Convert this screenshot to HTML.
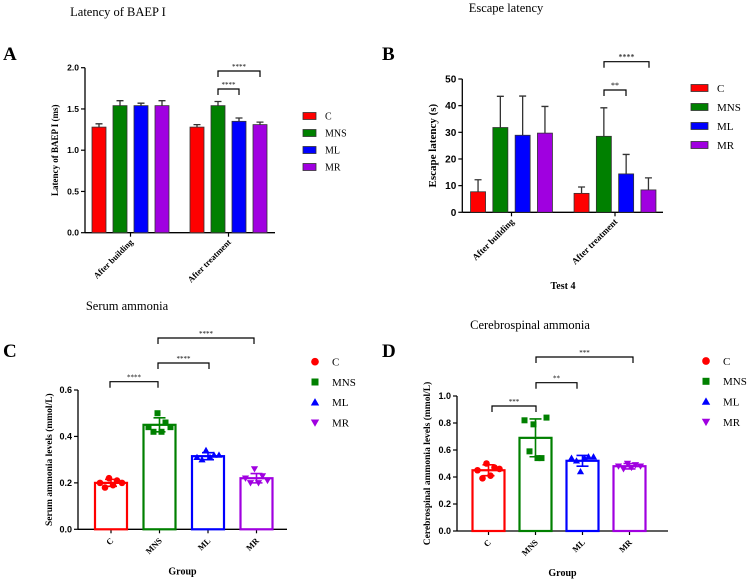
<!DOCTYPE html>
<html><head><meta charset="utf-8"><style>
html,body{margin:0;padding:0;background:#fff;}
svg{display:block;}
.serif{font-family:"Liberation Serif",serif;}
.sans{font-family:"Liberation Sans",sans-serif;}
</style></head><body>
<svg id="fig" width="750" height="580" viewBox="0 0 750 580" xmlns="http://www.w3.org/2000/svg">
<text class="serif" x="118" y="16" font-size="12.5" text-anchor="middle">Latency of BAEP I</text>
<text class="serif" x="127" y="310" font-size="12.5" text-anchor="middle">Serum ammonia</text>
<text class="serif" x="506" y="12" font-size="12.5" text-anchor="middle">Escape latency</text>
<text class="serif" x="530" y="329" font-size="12.5" text-anchor="middle">Cerebrospinal ammonia</text>
<text class="serif" x="3" y="60" font-size="19" font-weight="bold">A</text>
<text class="serif" x="382" y="60" font-size="19" font-weight="bold">B</text>
<text class="serif" x="3" y="357" font-size="19" font-weight="bold">C</text>
<text class="serif" x="382" y="357" font-size="19" font-weight="bold">D</text>
</svg>
<script>
const groups = ["C","MNS","ML","MR"];
const colors = ["#ff0000","#008000","#0000ff","#a000e0"];
// Panel A
const aCats = ["After building","After treatment"];
const aVals = [[1.28,1.54,1.54,1.54],[1.28,1.54,1.35,1.31]];
const aErr = [[0.04,0.06,0.03,0.06],[0.03,0.05,0.04,0.03]];
const aTicks = ["0.0","0.5","1.0","1.5","2.0"];
// Panel B
const bCats = ["After building","After treatment"];
const bVals = [[7.7,31.8,28.9,29.7],[7.1,28.5,14.4,8.4]];
const bErr = [[4.5,11.7,14.7,10.0],[2.4,10.7,7.3,4.5]];
const bTicks = ["0","10","20","30","40","50"];
// Panel C
const cMeans = [0.20,0.45,0.315,0.22];
const cSD = [0.015,0.03,0.015,0.02];
const cPts = [[0.20,0.18,0.22,0.19,0.21,0.20],[0.44,0.42,0.50,0.42,0.46,0.44],[0.31,0.30,0.34,0.31,0.32,0.32],[0.22,0.20,0.26,0.20,0.23,0.21]];
const cTicks = ["0.0","0.2","0.4","0.6"];
// Panel D
const dMeans = [0.45,0.69,0.52,0.48];
const dSD = [0.04,0.14,0.04,0.02];
const dPts = [[0.45,0.39,0.50,0.41,0.47,0.46],[0.82,0.59,0.79,0.54,0.54,0.84],[0.54,0.52,0.44,0.54,0.55,0.55],[0.48,0.46,0.50,0.47,0.49,0.48]];
const dTicks = ["0.0","0.2","0.4","0.6","0.8","1.0"];

const svg = document.getElementById('fig');
const NS = "http://www.w3.org/2000/svg";
function mk(tag, attrs, parent){
  const e = document.createElementNS(NS, tag);
  for (const k in attrs) e.setAttribute(k, attrs[k]);
  (parent||svg).appendChild(e);
  return e;
}
function txt(s, attrs, parent){ const t = mk('text', attrs, parent); t.textContent = s; return t; }

function axes(g, x0, yTop, y0, xEnd, ticks, tmax, fs, ytitle, ytx, yfs){
  const ys = v => y0 - (v/tmax)*(y0-yTop);
  const yl = mk('line',{x1:x0,y1:yTop,x2:x0,y2:y0,stroke:"#000","stroke-width":1.3},g);
  
  
  const xl = mk('line',{x1:x0,y1:y0,x2:xEnd,y2:y0,stroke:"#000","stroke-width":1.3},g);
  
  
  ticks.forEach(t=>{
    const v = parseFloat(t), y = ys(v);
    mk('line',{x1:x0-4,y1:y,x2:x0,y2:y,stroke:"#000","stroke-width":1.2},g);
    const tl = txt(t,{x:x0-6,y:y+fs*0.35,"font-size":fs,"font-weight":"bold","text-anchor":"end","class":"sans"},g);
    
    
  });
  const yc = (yTop+y0)/2;
  const tt = txt(ytitle,{x:ytx,y:yc,"font-size":yfs,"font-weight":"bold","text-anchor":"middle","class":"serif",transform:`rotate(-90 ${ytx} ${yc})`},g);
  
  
  return ys;
}
function xlabel(g, s, x, y, fs){
  const t = txt(s,{x:x,y:y,"font-size":fs,"font-weight":"bold","text-anchor":"end","class":"serif",transform:`rotate(-45 ${x} ${y})`},g);
  
  
}
function bracket(g, x1, x2, y, label, fs){
  const p = mk('path',{d:`M${x1} ${y+6}V${y}H${x2}V${y+6}`,fill:"none",stroke:"#000","stroke-width":1.2},g);
  
  
  const t = txt(label,{x:(x1+x2)/2,y:y-2,"font-size":fs,"text-anchor":"middle","class":"serif"},g);
  
  
}
function legendBoxes(g, x, y0, dy, w, h, fs){
  groups.forEach((n,i)=>{
    const r = mk('rect',{x:x,y:y0+i*dy-h/2,width:w,height:h,fill:colors[i],stroke:"#333","stroke-width":0.8},g);
    
    
    const t = txt(n,{x:x+w+9,y:y0+i*dy+fs*0.35,"font-size":fs,"class":"serif"},g);
    
    
  });
}
function marker(g, i, cx, cy, s){
  let e;
  if (i===0) e = mk('circle',{cx:cx,cy:cy,r:s*0.55,fill:colors[0]},g);
  else if (i===1) e = mk('rect',{x:cx-s/2,y:cy-s/2,width:s,height:s,fill:colors[1]},g);
  else if (i===2) e = mk('path',{d:`M${cx} ${cy-s*0.6}L${cx+s*0.6} ${cy+s*0.45}L${cx-s*0.6} ${cy+s*0.45}Z`,fill:colors[2]},g);
  else e = mk('path',{d:`M${cx} ${cy+s*0.6}L${cx+s*0.6} ${cy-s*0.45}L${cx-s*0.6} ${cy-s*0.45}Z`,fill:colors[3]},g);
  return e;
}
function legendMarkers(g, x, y0, dy, fs){
  groups.forEach((n,i)=>{
    const m = marker(g,i,x,y0+i*dy,7);
    
    
    const t = txt(n,{x:x+17,y:y0+i*dy+fs*0.35,"font-size":fs,"class":"serif"},g);
    
    
  });
}

function grouped(cfg){
  const g = mk('g',{});
  
  
  const ys = axes(g,cfg.x0,cfg.yTop,cfg.y0,cfg.xEnd,cfg.ticks,cfg.tmax,cfg.fs,cfg.ytitle,cfg.ytx,cfg.yfs);
  cfg.cats.forEach((c,ci)=>{
    const cx = cfg.centers[ci];
    mk('line',{x1:cx,y1:cfg.y0,x2:cx,y2:cfg.y0+4,stroke:"#000","stroke-width":1.2},g);
    xlabel(g,c,cx+3,cfg.y0+10,cfg.xfs);
    cfg.vals[ci].forEach((v,i)=>{
      const bx = cx + (i-2)*cfg.step + (cfg.step-cfg.bw)/2;
      const top = ys(v), et = ys(v+cfg.err[ci][i]), mid = bx+cfg.bw/2;
      const el = mk('path',{d:`M${mid} ${top}V${et}M${mid-3.5} ${et}H${mid+3.5}`,stroke:"#333","stroke-width":1.3,fill:"none"},g);
      
      
      const r = mk('rect',{x:bx,y:top,width:cfg.bw,height:cfg.y0-top,fill:colors[i],stroke:"#333","stroke-width":0.8},g);
      
      
    });
  });
  return {g, ys};
}

const A = grouped({name:"panel-a",x0:85,yTop:67.7,y0:232.7,xEnd:275,ticks:aTicks,tmax:2,fs:8.5,ytitle:"Latency of BAEP I (ms)",ytx:58,yfs:9,
  cats:aCats,vals:aVals,err:aErr,centers:[130.5,228.5],step:21,bw:14,xfs:8.5});
bracket(A.g,218,239,89,"****",7);
bracket(A.g,218,260,71,"****",7);
legendBoxes(A.g,303,116,17,13,7,10);

const B = grouped({name:"panel-b",x0:462.3,yTop:79,y0:212.3,xEnd:663,ticks:bTicks,tmax:50,fs:10,ytitle:"Escape latency (s)",ytx:436,yfs:11,
  cats:bCats,vals:bVals,err:bErr,centers:[511.5,615],step:22.3,bw:15,xfs:9});
bracket(B.g,604,626,90,"**",8);
bracket(B.g,604,649,61.7,"****",8);
legendBoxes(B.g,691,88,19,17,7,11);
const bt = txt("Test 4",{x:563,y:289,"font-size":10,"font-weight":"bold","text-anchor":"middle","class":"serif"},B.g);



function scatterBar(cfg){
  const g = mk('g',{});
  
  
  const ys = axes(g,cfg.x0,cfg.yTop,cfg.y0,cfg.xEnd,cfg.ticks,cfg.tmax,cfg.fs,cfg.ytitle,cfg.ytx,cfg.yfs);
  const jit = [-11,-6,-2,2,6,11];
  groups.forEach((n,i)=>{
    const cx = cfg.x0 + cfg.first + i*cfg.step;
    mk('line',{x1:cx,y1:cfg.y0,x2:cx,y2:cfg.y0+4,stroke:"#000","stroke-width":1.2},g);
    xlabel(g,n,cx+3,cfg.y0+12,8.5);
    const top = ys(cfg.means[i]);
    const r = mk('rect',{x:cx-cfg.bw/2,y:top,width:cfg.bw,height:cfg.y0-top,fill:"none",stroke:colors[i],"stroke-width":2.2},g);
    
    
    cfg.pts[i].forEach((v,k)=>{
      const m = marker(g,i,cx+jit[k],ys(v),6);
      
      
    });
    const hi = ys(cfg.means[i]+cfg.sd[i]), lo = ys(cfg.means[i]-cfg.sd[i]);
    const e = mk('path',{d:`M${cx} ${lo}V${hi}M${cx-6} ${hi}H${cx+6}M${cx-6} ${lo}H${cx+6}`,stroke:colors[i],"stroke-width":1.6,fill:"none"},g);
    
    
  });
  const gt = txt("Group",{x:(cfg.x0+cfg.xEnd)/2,y:cfg.y0+45,"font-size":10,"font-weight":"bold","text-anchor":"middle","class":"serif"},g);
  
  
  return {g, ys};
}
const C = scatterBar({name:"panel-c",x0:78,yTop:390,y0:529.3,xEnd:287,ticks:cTicks,tmax:0.6,fs:9,ytitle:"Serum ammonia levels (mmol/L)",ytx:52,yfs:9.5,
  first:33,step:48.5,bw:32,means:cMeans,sd:cSD,pts:cPts});
bracket(C.g,110,158,381.7,"****",7);
bracket(C.g,158,209,363,"****",7);
bracket(C.g,158,254,338,"****",7);
legendMarkers(C.g,315,361.7,20.3,11);

const D = scatterBar({name:"panel-d",x0:457,yTop:396,y0:531,xEnd:668,ticks:dTicks,tmax:1.0,fs:9,ytitle:"Cerebrospinal ammonia levels (mmol/L)",ytx:430,yfs:9.5,
  first:31.5,step:47,bw:32,means:dMeans,sd:dSD,pts:dPts});
bracket(D.g,492,536,406,"***",7);
bracket(D.g,536,577,382.7,"**",7);
bracket(D.g,536,633,357,"***",7);
legendMarkers(D.g,706,361,20.3,11);
</script>
</body></html>
